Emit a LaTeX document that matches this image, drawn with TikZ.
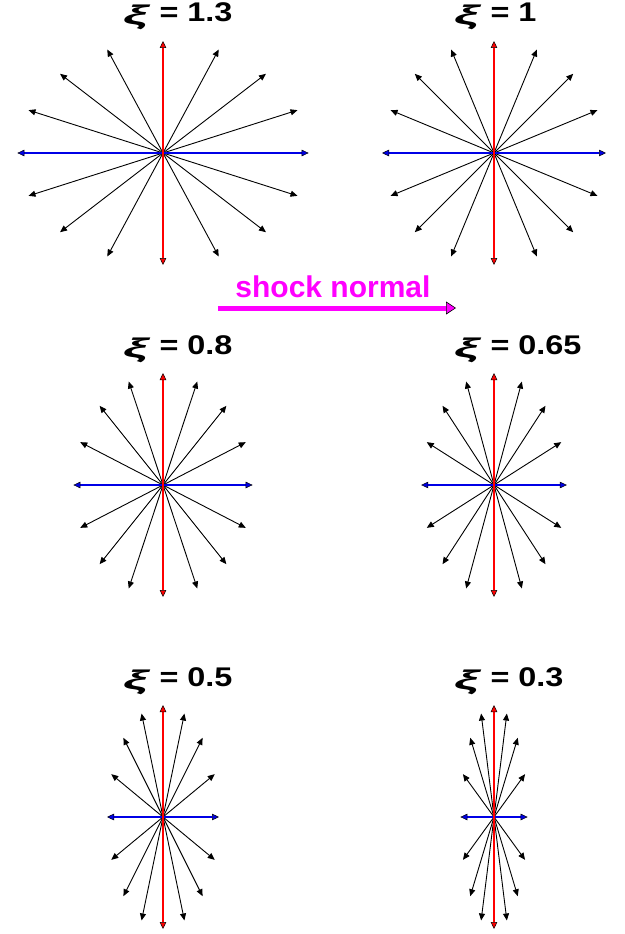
\documentclass[tikz,border=0pt]{standalone}
\usepackage{fontspec}
\setmainfont{Liberation Sans}
\usepackage{graphicx}
\usetikzlibrary{arrows.meta}
\definecolor{snmag}{RGB}{255,0,255}
\definecolor{axred}{RGB}{255,0,0}
\definecolor{axblue}{RGB}{0,0,230}
\newcommand{\xisym}{\raisebox{-3pt}{\scalebox{1.7}[1]{\textit{ξ}}}}
\newcommand{\xititle}[1]{\scalebox{1.2}[1]{\xisym\ = #1}}
\begin{document}
\begin{tikzpicture}[x=1pt,y=-1pt,line join=round,
  ray/.style={line width=0.9pt,-{Triangle[length=7pt,width=6pt]}},
  axis/.style={draw=#1,line width=1.8pt,-{Triangle[length=7pt,width=6.5pt,fill=#1,color=black,line width=0.5pt]}},
  title/.style={font=\bfseries\fontsize{27}{30}\selectfont,anchor=base west,inner sep=0pt}]
  \useasboundingbox (0,0) rectangle (624,934);
  \def\R{112}
  \foreach \cx/\cy/\xi [count=\i] in {163/153/1.3,494/153/1,163/485/0.8,494/485/0.65,163/817/0.5,494/817/0.3}{
    \coordinate (O\i) at (\cx,\cy);
    % compressed star of directions
    \foreach \a in {22.5,45,67.5,112.5,135,157.5,202.5,225,247.5,292.5,315,337.5}
      \draw[ray] (O\i) -- ++({\xi*\R*cos(\a)},{\R*sin(\a)});
    \draw[axis=axblue] (O\i) -- ++(\xi*\R,0); \draw[axis=axblue] (O\i) -- ++(-\xi*\R,0);
    \draw[axis=axred] (O\i) -- ++(0,-\R); \draw[axis=axred] (O\i) -- ++(0,\R);
    \node[title] (t\i) at (\cx-40,\cy-131) {\xititle{\xi}};
  }
  \coordinate (N0) at (218,308); \coordinate (N1) at (456,308);
  \draw[snmag,line width=5pt,-{Triangle[length=10pt,width=13pt,fill=snmag,color=black,line width=0.6pt]}] (N0) -- (N1);
  \node[font=\bfseries\fontsize{30}{32}\selectfont,text=snmag,anchor=base,inner sep=0pt] (sn) at (333,297) {shock normal};
\end{tikzpicture}
\end{document}
